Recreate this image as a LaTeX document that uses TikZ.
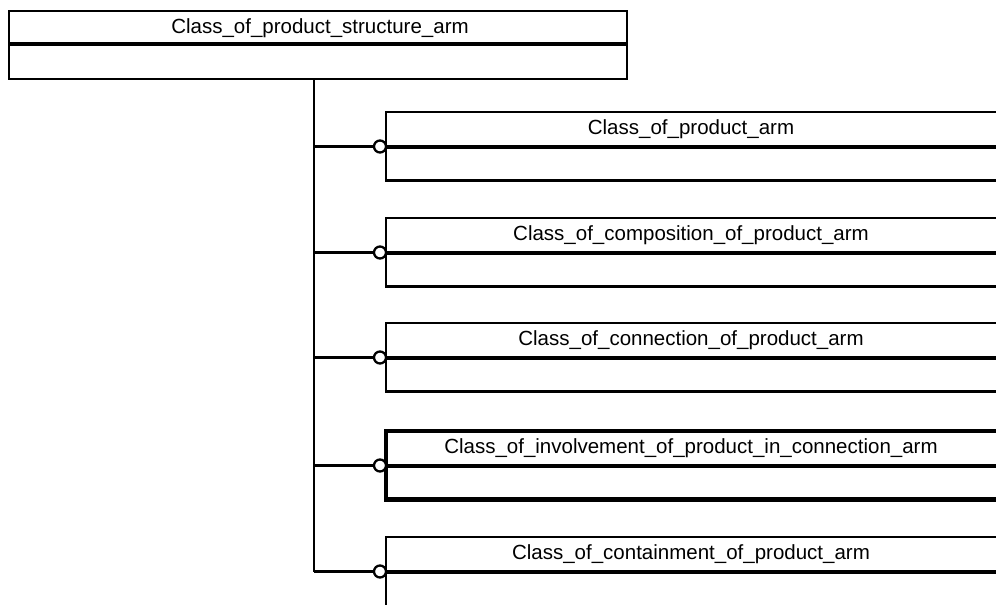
\documentclass[tikz,border=0pt]{standalone}
\usepackage{fontspec}
\setmainfont{Liberation Sans}
\begin{document}
\begin{tikzpicture}[x=1pt,y=-1pt,
  lbl/.style={font=\fontsize{20.5}{24}\selectfont, inner sep=0pt, anchor=center},
  boxline/.style={line width=2.3pt},
  sepline/.style={line width=4pt},
  conn/.style={line width=2.3pt},
  ring/.style={circle, draw, line width=2.3pt, fill=white, minimum size=12pt, inner sep=0pt}
]
\useasboundingbox (0,0) rectangle (996,605);
% top box
\draw[boxline] (9,11) rectangle (627,79);
\draw[sepline] (9,44) -- (627,44);
\node[lbl] (top) at (320,28) {Class\_of\_product\_structure\_arm};
\coordinate (trunkTop) at (314,79);
\coordinate (trunkBot) at (314,572);
\draw[conn] (trunkTop) -- (trunkBot);
% child boxes
\foreach \i/\t/\h/\txt/\w in {
  1/112/68.5/Class\_of\_product\_arm/2.3pt,
  2/218/68.5/Class\_of\_composition\_of\_product\_arm/2.3pt,
  3/323/68.5/Class\_of\_connection\_of\_product\_arm/2.3pt,
  4/431/68.5/Class\_of\_involvement\_of\_product\_in\_connection\_arm/4.5pt,
  5/537/80/Class\_of\_containment\_of\_product\_arm/2.3pt}{
  \pgfmathsetmacro{\m}{\t+34.5}
  \pgfmathsetmacro{\b}{\t+\h}
  \draw[line width=\w] (1010,\t) -- (386,\t) -- (386,\b) -- (1010,\b);
  \draw[sepline] (386,\m) -- (1010,\m);
  \node[lbl] (c\i) at (691,\t+17) {\txt};
  \node[ring] (r\i) at (380,\m) {};
  \coordinate (j\i) at (314,\m);
  \draw[conn] (j\i) -- (r\i.west);
}
\end{tikzpicture}
\end{document}
